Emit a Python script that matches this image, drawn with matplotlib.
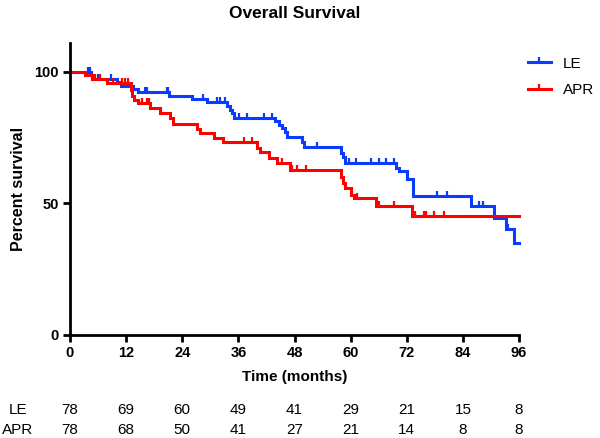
import numpy as np
import matplotlib
matplotlib.use("Agg")
import matplotlib.pyplot as plt
from matplotlib.path import Path
from matplotlib.lines import Line2D

plt.rcParams['font.family'] = ['Liberation Sans', 'DejaVu Sans']

# ---- data ----
le_times = [0, 4.5, 5.0, 10.0, 11.0, 13.5, 14.5, 21.2, 26.0, 29.3, 33.6, 34.2, 34.6, 35.0,
            43.9, 44.6, 45.4, 45.9, 46.4, 49.7, 50.0, 57.9, 58.3, 58.9, 69.6, 70.3, 72.1,
            73.4, 85.7, 90.7, 93.2, 95.0]
le_surv = [100, 98.7, 97.4, 96.1, 94.8, 93.5, 92.2, 91.0, 89.7, 88.4, 87.0, 85.7, 84.4, 82.5,
           81.2, 79.9, 78.6, 77.0, 75.2, 73.2, 71.3, 69.3, 67.5, 65.3, 63.5, 62.2, 59.3,
           52.9, 49.2, 44.6, 40.2, 35.1]
le_censor = [3.9, 4.3, 6.0, 8.7, 16.0, 16.5, 20.7, 21.0, 28.5, 31.4, 32.1, 33.2, 36.1, 37.9,
             41.4, 43.2, 52.9, 59.6, 61.1, 64.3, 66.0, 67.5, 69.2, 78.4, 80.7, 87.5, 88.2, 93.7]

apr_times = [0, 3.2, 4.7, 8.0, 13.0, 13.3, 13.6, 14.6, 17.1, 19.3, 21.4, 22.1, 27.1, 27.9,
             30.7, 32.8, 40.0, 40.7, 42.5, 44.3, 47.1, 57.9, 58.4, 58.9, 60.0, 60.7, 65.5, 73.2]
apr_surv = [100, 98.7, 97.4, 95.9, 93.0, 90.9, 89.5, 88.2, 86.3, 84.4, 82.3, 80.2, 78.2, 76.8,
            75.0, 73.2, 71.0, 69.6, 67.3, 65.4, 62.9, 60.0, 57.8, 56.0, 53.2, 52.0, 49.0, 45.2]
apr_censor = [5.4, 6.4, 9.2, 11.1, 11.8, 12.5, 15.4, 16.4, 16.9, 37.1, 38.9, 45.4, 47.5, 48.6,
              50.4, 60.4, 61.4, 66.1, 69.3, 73.7, 75.7, 76.1, 77.9, 79.9]

t_end = 96
x_ticks = [0, 12, 24, 36, 48, 60, 72, 84, 96]
le_risk = [78, 69, 60, 49, 41, 29, 21, 15, 8]
apr_risk = [78, 68, 50, 41, 27, 21, 14, 8, 8]

BLUE = '#0a3cff'
RED = '#ff0000'

tick_marker = Path([(0, 0), (0, 1)], [Path.MOVETO, Path.LINETO])


def surv_at(times, surv, t):
    idx = np.searchsorted(times, t, side='right') - 1
    return np.asarray(surv)[idx]


fig = plt.figure(figsize=(6, 4.38), dpi=100)
ax = fig.add_axes([70 / 600, 1 - 335 / 438, 449 / 600, (335 - 43) / 438])

for times, surv, cens, col in [(le_times, le_surv, le_censor, BLUE),
                               (apr_times, apr_surv, apr_censor, RED)]:
    tt = list(times) + [t_end]
    ss = list(surv) + [surv[-1]]
    ax.step(tt, ss, where='post', color=col, lw=2.2, solid_joinstyle='miter')
    cy = [surv_at(times, surv, c) for c in cens]
    ax.plot(cens, cy, ls='none', marker=tick_marker, markersize=7,
            markeredgewidth=1.6, color=col)

ax.set_xlim(0, 96)
ax.set_ylim(0, 111)
ax.set_xticks(x_ticks)
ax.set_yticks([0, 50, 100])
for s in ['top', 'right']:
    ax.spines[s].set_visible(False)
for s in ['left', 'bottom']:
    ax.spines[s].set_linewidth(2)
ax.tick_params(axis='both', length=5, width=2, labelsize=10.5, pad=3)
for lab in ax.get_xticklabels() + ax.get_yticklabels():
    lab.set_fontweight('bold')
for ln in ax.lines:
    ln.set_clip_on(False)

ax.set_xlabel('Time (months)', fontsize=11, fontweight='bold', labelpad=7)
ax.set_ylabel('Percent survival', fontsize=11.5, fontweight='bold', labelpad=6)
fig.text(295 / 600, 1 - 13 / 438, 'Overall Survival', ha='center', va='center',
         fontsize=12.5, fontweight='bold')

handles = [Line2D([0], [0], color=BLUE, lw=2.2, marker=tick_marker, markersize=7, markeredgewidth=1.6),
           Line2D([0], [0], color=RED, lw=2.2, marker=tick_marker, markersize=7, markeredgewidth=1.6)]
fig.legend(handles, ['LE', 'APR'], loc='upper left', bbox_to_anchor=(514 / 600, 1 - 43 / 438),
           frameon=False, fontsize=11, handlelength=1.5, labelspacing=0.8, numpoints=1,
           handletextpad=0.8)

# number at risk
for row_y, name, vals in [(410, 'LE', le_risk), (430, 'APR', apr_risk)]:
    yf = 1 - row_y / 438
    fig.text(18 / 600, yf, name, ha='center', va='center', fontsize=11)
    for xv, v in zip(x_ticks, vals):
        xpix = ax.transData.transform((xv, 0))[0]
        fig.text(xpix / fig.bbox.width, yf, str(v), ha='center', va='center', fontsize=11)

fig.savefig('out.png', dpi=100)
